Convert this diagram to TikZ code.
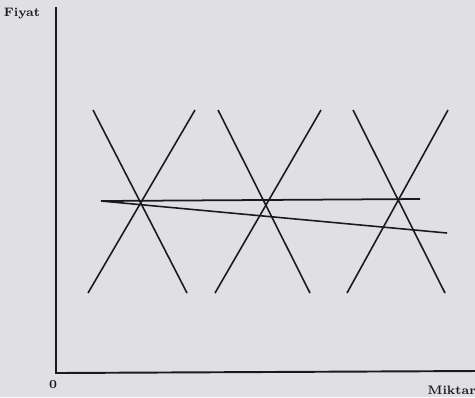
\documentclass[tikz,border=0pt]{standalone}
\usepackage{tikz}
\definecolor{cPaper}{RGB}{224,223,228}
\definecolor{cInk}{RGB}{25,25,30}
\begin{document}
\begin{tikzpicture}[x=0.02cm, y=-0.02cm, every node/.style={font=\scriptsize\bfseries, text=cInk, inner sep=1pt}]
  % paper
  \fill[cPaper] (0,0) rectangle (475,397);
  \useasboundingbox (0,0) rectangle (475,397);
  % axes
  \coordinate (top) at (56,7);
  \coordinate (origin) at (56,373);
  \coordinate (right) at (475,371);
  \draw[cInk,line width=1.1pt] (top) -- (origin) -- (right);
  \node (fiyat) at (22,14) {Fiyat};
  \node (zero) at (53,385) {0};
  \node[anchor=east] (miktar) at (478,390) {Miktar};
  % supply/demand crosses
  \foreach \n/\a/\b/\c/\d in {1/93/187/195/88, 2/218/310/321/215, 3/353/445/448/347}{
    \coordinate (s\n top) at (\a,110);
    \coordinate (s\n bot) at (\b,293);
    \coordinate (d\n top) at (\c,110);
    \coordinate (d\n bot) at (\d,293);
    \draw[cInk,line width=0.9pt] (s\n top) -- (s\n bot);
    \draw[cInk,line width=0.9pt] (d\n top) -- (d\n bot);
  }
  % flat and falling lines
  \coordinate (start) at (101,201);
  \coordinate (flat end) at (420,199);
  \coordinate (fall end) at (447,233);
  \draw[cInk,line width=1pt] (start) -- (flat end);
  \draw[cInk,line width=0.9pt] (start) -- (fall end);
\end{tikzpicture}
\end{document}
